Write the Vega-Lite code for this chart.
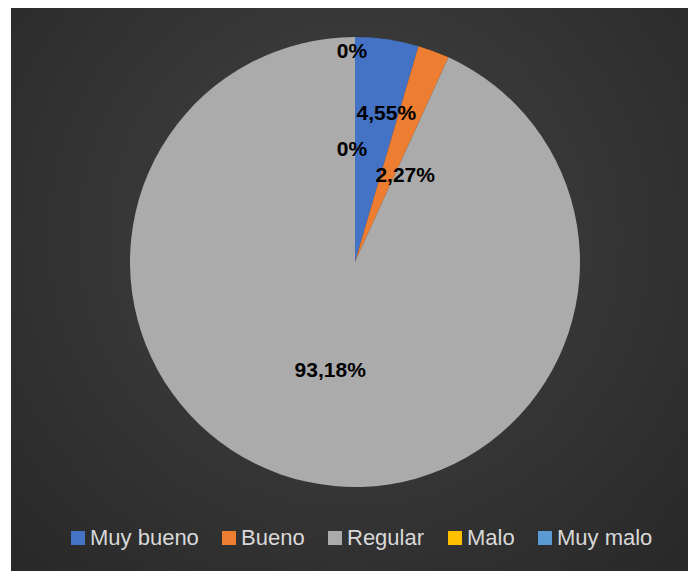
{
  "$schema": "https://vega.github.io/schema/vega-lite/v6.json",
  "autosize": "none",
  "width": 677,
  "height": 563,
  "padding": {"left": 11, "top": 8, "right": 0, "bottom": 0},
  "background": "#ffffff",
  "config": {
    "view": {"stroke": null, "fill": "#333333"},
    "legend": {
      "orient": "none",
      "direction": "horizontal",
      "legendX": 56,
      "legendY": 519,
      "padding": 0,
      "symbolType": "square",
      "symbolSize": 196,
      "symbolStrokeWidth": 0,
      "symbolOpacity": 1,
      "labelFont": "Liberation Sans",
      "labelFontSize": 22,
      "labelColor": "#d9d9d9",
      "labelOffset": 1,
      "columnPadding": 19,
      "title": null
    }
  },
  "datasets": {
    "ratings": [
      {"cat": "Muy bueno", "value": 4.55, "label": "4,55%", "idx": 1},
      {"cat": "Bueno", "value": 2.27, "label": "2,27%", "idx": 2},
      {"cat": "Regular", "value": 93.18, "label": "93,18%", "idx": 3},
      {"cat": "Malo", "value": 0, "label": "0%", "idx": 4},
      {"cat": "Muy malo", "value": 0, "label": "0%", "idx": 5}
    ],
    "panel": [{"name": "background"}]
  },
  "layer": [
    {
      "data": {"name": "panel"},
      "mark": {
        "type": "rect",
        "fill": {"gradient": "radial", "x1": 0.5, "y1": 0.42, "r1": 0, "x2": 0.5, "y2": 0.42, "r2": 0.75,
          "stops": [{"offset": 0, "color": "#444444"}, {"offset": 1, "color": "#262626"}]}
      },
      "encoding": {}
    },
    {
      "data": {"name": "ratings"},
      "encoding": {
        "theta": {"field": "value", "type": "quantitative", "stack": true},
        "order": {"field": "idx", "type": "quantitative"}
      },
      "layer": [
        {
          "mark": {"type": "arc", "outerRadius": 225, "xOffset": 5.5, "yOffset": -27.5},
          "encoding": {
            "color": {
              "field": "cat", "type": "nominal",
              "scale": {"domain": ["Muy bueno", "Bueno", "Regular", "Malo", "Muy malo"],
                        "range": ["#4472C4", "#ED7D31", "#ABABAB", "#FFC000", "#5B9BD5"]},
              "legend": {"title": null}
            }
          }
        },
        {
          "mark": {"type": "text", "radius": 150, "xOffset": 5.5, "yOffset": -27.5, "dx": 10, "font": "Liberation Sans", "fontWeight": "bold", "fontSize": 21, "color": "#000000", "baseline": "middle"},
          "encoding": {"text": {"condition": {"test": "datum.cat == 'Muy bueno'", "field": "label"}, "value": ""}}
        },
        {
          "mark": {"type": "text", "radius": 92, "xOffset": 5.5, "yOffset": -27.5, "dx": 18, "font": "Liberation Sans", "fontWeight": "bold", "fontSize": 21, "color": "#000000", "baseline": "middle"},
          "encoding": {"text": {"condition": {"test": "datum.cat == 'Bueno'", "field": "label"}, "value": ""}}
        },
        {
          "mark": {"type": "text", "radius": 112, "xOffset": 5.5, "yOffset": -27.5, "dx": -1, "font": "Liberation Sans", "fontWeight": "bold", "fontSize": 21, "color": "#000000", "baseline": "middle"},
          "encoding": {"text": {"condition": {"test": "datum.cat == 'Regular'", "field": "label"}, "value": ""}}
        },
        {
          "mark": {"type": "text", "radius": 112, "xOffset": 5.5, "yOffset": -27.5, "dx": -3, "font": "Liberation Sans", "fontWeight": "bold", "fontSize": 21, "color": "#000000", "baseline": "middle"},
          "encoding": {"text": {"condition": {"test": "datum.cat == 'Malo'", "field": "label"}, "value": ""}}
        },
        {
          "mark": {"type": "text", "radius": 210, "xOffset": 5.5, "yOffset": -27.5, "dx": -3, "font": "Liberation Sans", "fontWeight": "bold", "fontSize": 21, "color": "#000000", "baseline": "middle"},
          "encoding": {"text": {"condition": {"test": "datum.cat == 'Muy malo'", "field": "label"}, "value": ""}}
        }
      ]
    }
  ]
}
